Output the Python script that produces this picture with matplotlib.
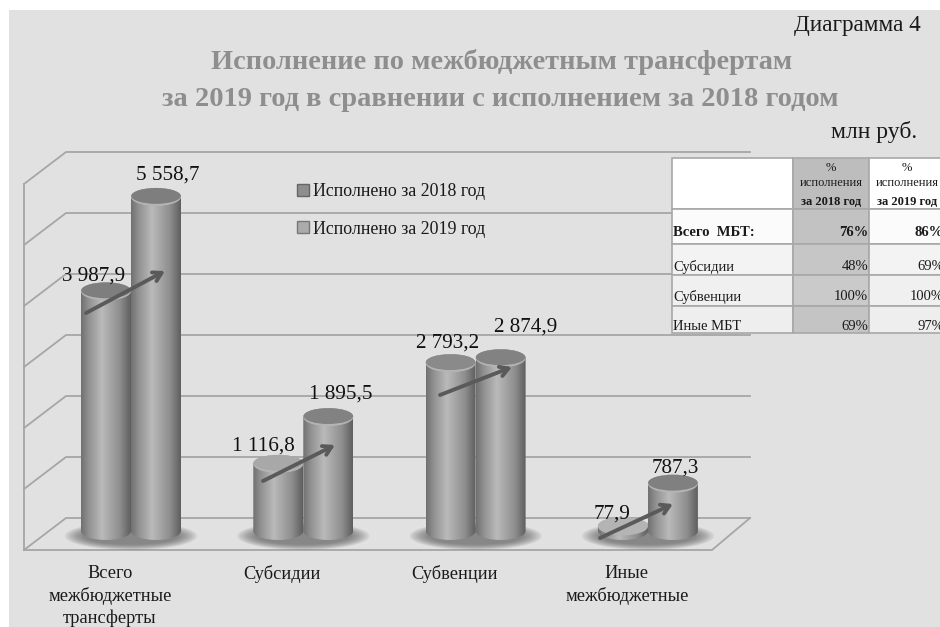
import numpy as np
import matplotlib
matplotlib.use("Agg")
import matplotlib.pyplot as plt
from matplotlib.colors import LinearSegmentedColormap
from matplotlib.patches import Ellipse, Patch, Rectangle
from matplotlib.path import Path

plt.rcParams['font.family'] = ['Liberation Serif', 'DejaVu Serif']

# data
categories = ["Всего\nмежбюджетные\nтрансферты", "Субсидии", "Субвенции", "Иные\nмежбюджетные"]
series_names = ["Исполнено за 2018 год", "Исполнено за 2019 год"]
values_2018 = [3987.9, 1116.8, 2793.2, 77.9]
values_2019 = [5558.7, 1895.5, 2874.9, 787.3]
grid_ticks = [0, 1000, 2000, 3000, 4000, 5000, 6000]

table_head = ["", "%\nисполнения\n ", "%\nисполнения\n "]
table_years = ["за 2018 год", "за 2019 год"]
table_rows = ["Всего  МБТ:", "Субсидии", "Субвенции", "Иные МБТ"]
pct_2018 = ["76%", "48%", "100%", "69%"]
pct_2019 = ["86%", "69%", "100%", "97%"]

# layout, all in pixels of the 940x627 picture
W, H = 940, 627
X0, DX = 131, 172.3      # first group centre, group step
Y0, SY = 531, 0.0601     # pixel of value 0, pixels per unit


def xd(px):
    return (px - X0) / DX


def yd(py):
    return (Y0 - py) / SY


def to_axes(px, py):
    return px / W, 1 - py / H


fig = plt.figure(figsize=(W / 100, H / 100), dpi=100, facecolor="white")
ax = fig.add_axes([0, 0, 1, 1])
ax.set_xlim(xd(0), xd(W))
ax.set_ylim(yd(H), yd(0))
ax.set_autoscale_on(False)
ax.axis("off")

# grey panel behind everything
ax.add_patch(Rectangle((9 / W, 0), 1, 1 - 10 / H, transform=ax.transAxes,
                       facecolor="#e1e1e1", edgecolor="none", zorder=0))

# 3D box: back wall gridlines, left wall, floor
line_col = "#a6a6a6"
back_left, back_right, front_left, front_right = 66, 750, 24, 712
back_base, front_base = 518, 550
grid_step_px = 61
for t in grid_ticks:
    off = t / 1000 * grid_step_px
    ax.plot([xd(front_left), xd(back_left), xd(back_right)],
            [yd(front_base - off), yd(back_base - off), yd(back_base - off)],
            color=line_col, lw=1.3, zorder=1)
ax.plot([xd(front_left), xd(front_left)],
        [yd(front_base), yd(front_base - 6 * grid_step_px)], color=line_col, lw=1.3, zorder=1)
ax.plot([xd(front_left), xd(front_right), xd(back_right)],
        [yd(front_base), yd(front_base), yd(back_base)], color=line_col, lw=1.3, zorder=1)

# cylinders
cyl_cmap = LinearSegmentedColormap.from_list(
    "cyl", [(0, "#707070"), (0.15, "#909090"), (0.42, "#bababa"),
            (0.78, "#8e8e8e"), (1, "#5e5e5e")])
grad = np.linspace(0, 1, 256).reshape(1, -1)
bar_w = 50 / DX
ell_h = 18 / SY
top_2018 = ["#7e7e7e", "#a8a8a8", "#8a8a8a", "#b4b4b4"]
top_2019 = ["#7e7e7e", "#828282", "#828282", "#808080"]


def cylinder(x, value, top_col, z):
    t = np.linspace(0, np.pi, 40)
    xs = x + bar_w / 2 * np.cos(t)
    ys_top = value + ell_h / 2 * np.sin(t)
    ys_bot = -ell_h / 2 * np.sin(t)
    pts = np.r_[np.c_[xs, ys_top], np.c_[xs[::-1], ys_bot[::-1]], [[xs[0], ys_top[0]]]]
    im = ax.imshow(grad, extent=(x - bar_w / 2, x + bar_w / 2, -ell_h, value + ell_h),
                   aspect="auto", cmap=cyl_cmap, vmin=0, vmax=1, zorder=z)
    im.set_clip_path(Path(pts), ax.transData)
    ax.add_patch(Ellipse((x, value), bar_w, ell_h, facecolor="#b4b4b4", edgecolor="none", zorder=z))
    ax.add_patch(Ellipse((x, value + 1 / SY), bar_w * 0.99, ell_h * 0.88,
                         facecolor=top_col, edgecolor="none", zorder=z))


for i in range(len(categories)):
    # soft shadow on the floor
    for k in range(8):
        ax.add_patch(Ellipse((i, -5 / SY), (132 - k * 5) / DX, (28 - k * 1.5) / SY,
                             facecolor="#4a4a4a", alpha=0.10, edgecolor="none", zorder=2))
    cylinder(i - bar_w / 2, values_2018[i], top_2018[i], 3)
    cylinder(i + bar_w / 2, values_2019[i], top_2019[i], 4)

# value labels, nudged off the cylinder tops (pixels)
off_2018 = [(-12, 15), (-15, 18), (-3, 20), (-11, 12)]
off_2019 = [(12, 22), (12, 23), (25, 31), (2, 16)]


def fmt(v):
    return f"{v:,.1f}".replace(",", " ").replace(".", ",")


for i in range(len(categories)):
    ax.annotate(fmt(values_2018[i]), (i - bar_w / 2, values_2018[i]), xytext=off_2018[i],
                textcoords="offset pixels", ha="center", va="center", fontsize=15.2, color="#111111", zorder=7)
    ax.annotate(fmt(values_2019[i]), (i + bar_w / 2, values_2019[i]), xytext=off_2019[i],
                textcoords="offset pixels", ha="center", va="center", fontsize=15.2, color="#111111", zorder=7)

# growth arrows
arrow_from = [(86, 313), (263, 481), (440, 395), (600, 538)]
arrow_to = [(165, 271), (335, 445), (512, 367), (673, 504)]
for a, b in zip(arrow_from, arrow_to):
    ax.annotate("", xy=(xd(b[0]), yd(b[1])), xytext=(xd(a[0]), yd(a[1])), zorder=6,
                arrowprops=dict(arrowstyle="->,head_length=0.6,head_width=0.35", color="#5a5a5a",
                                lw=2.8, shrinkA=0, shrinkB=0))

# category labels sit left of the groups because of the 3D floor
for i, name in enumerate(categories):
    ax.text(i - 21 / DX, yd(565), name, ha="center", va="top", fontsize=13.2,
            color="#1a1a1a", linespacing=1.36, zorder=7)

# legend
handles = [Patch(facecolor="#8e8e8e", edgecolor="#666666", label=series_names[0]),
           Patch(facecolor="#ababab", edgecolor="#777777", label=series_names[1])]
ax.legend(handles=handles, loc="upper left", bbox_to_anchor=to_axes(281, 167), frameon=False,
          fontsize=12.9, handlelength=0.65, handleheight=0.65, handletextpad=0.25,
          labelspacing=1.15, labelcolor="#1a1a1a")

# titles
title_col = "#8e8e8e"
ax.text(*to_axes(502, 62), "Исполнение по межбюджетным трансфертам", transform=ax.transAxes,
        ha="center", va="center", fontsize=20.4, fontweight="bold", color=title_col)
ax.text(*to_axes(500, 99), "за 2019 год в сравнении с исполнением за 2018 годом", transform=ax.transAxes,
        ha="center", va="center", fontsize=20.5, fontweight="bold", color=title_col)
ax.text(*to_axes(921, 25), "Диаграмма 4", transform=ax.transAxes, ha="right", va="center",
        fontsize=16.7, color="#1a1a1a")
ax.text(*to_axes(917, 132), "млн руб.", transform=ax.transAxes, ha="right", va="center",
        fontsize=17, color="#1a1a1a")

# inset table
cell_text = [table_head] + [[r, p18, p19] for r, p18, p19 in zip(table_rows, pct_2018, pct_2019)]
tx0, tx1, ty0, ty1 = 672, 945, 158, 333
col_px = [121, 76, 76]
row_px = [51, 35, 31, 31, 27]
tbl = ax.table(cellText=cell_text, colWidths=[c / (tx1 - tx0) for c in col_px],
               bbox=[tx0 / W, 1 - ty1 / H, (tx1 - tx0) / W, (ty1 - ty0) / H], zorder=8)
tbl.auto_set_font_size(False)
row_fill = ["#ffffff", "#fbfbfb", "#f3f3f3", "#f0f0f0", "#eeeeee"]
col2_fill = ["#bdbdbd", "#c2c2c2", "#c6c6c6", "#cacaca", "#c4c4c4"]
for (r, c), cell in tbl.get_celld().items():
    cell.set_height(row_px[r] / (ty1 - ty0))
    cell.set_edgecolor("#a8a8a8")
    cell.set_linewidth(1.2)
    cell.set_facecolor(col2_fill[r] if c == 1 else row_fill[r])
    cell.PAD = 0.01
    txt = cell.get_text()
    txt.set_color("#1a1a1a")
    if r == 0:
        txt.set_ha("center")
        txt.set_fontsize(9)
        txt.set_linespacing(1.4)
    else:
        txt.set_ha("left" if c == 0 else "right")
        txt.set_va("top")
        txt.set_fontsize(10.5)
        if r == 1:
            txt.set_fontweight("bold")
for px, year in zip([831, 907], table_years):
    ax.text(*to_axes(px, 202), year, transform=ax.transAxes, ha="center", va="center",
            fontsize=9, fontweight="bold", color="#1a1a1a", zorder=9)

fig.savefig("out.png", dpi=100)
